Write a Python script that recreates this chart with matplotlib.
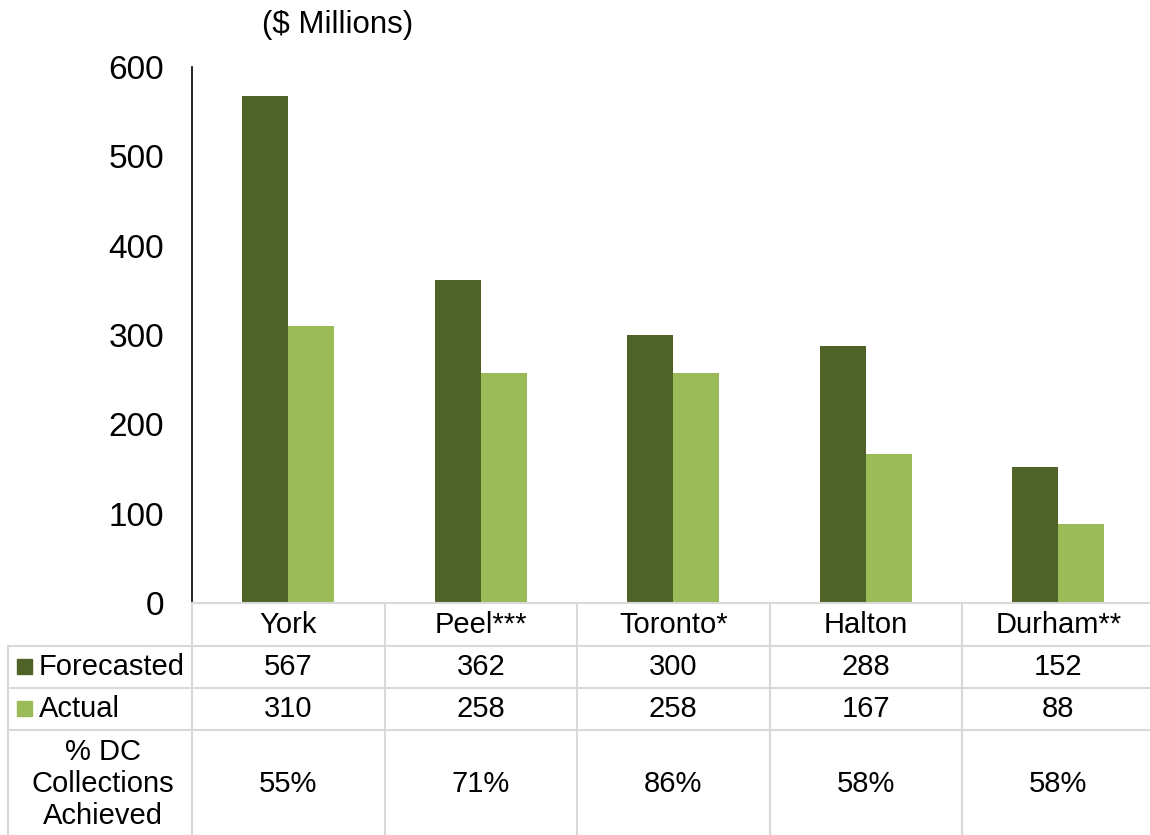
import matplotlib
matplotlib.use("Agg")
import matplotlib.pyplot as plt
from matplotlib.lines import Line2D
from matplotlib.patches import Rectangle

regions = ["York", "Peel***", "Toronto*", "Halton", "Durham**"]
forecasted = [567, 362, 300, 288, 152]
actual = [310, 258, 258, 167, 88]
pct_achieved = ["55%", "71%", "86%", "58%", "58%"]
series_names = ["Forecasted", "Actual"]
row3_label = "% DC\nCollections\nAchieved"
y_ticks = [0, 100, 200, 300, 400, 500, 600]

DARK = "#4F6228"
LIGHT = "#9BBB59"
GRID = "#D9D9D9"
FS = 21

plt.rcParams['font.family'] = ['Liberation Sans', 'DejaVu Sans']

W, H = 1150, 835
fig = plt.figure(figsize=(W / 100, H / 100), dpi=100)

def fx(x):
    return x / W

def fy(y):
    return 1 - y / H

ax_l, ax_r, ax_t, ax_b = 192, 1154.5, 67, 603
ax = fig.add_axes([fx(ax_l), fy(ax_b), fx(ax_r - ax_l), (ax_b - ax_t) / H])

n = len(regions)
xs = list(range(n))
bw = 0.24
ax.bar([x - bw / 2 for x in xs], forecasted, width=bw, color=DARK, zorder=2)
ax.bar([x + bw / 2 for x in xs], actual, width=bw, color=LIGHT, zorder=2)
ax.set_xlim(-0.5, n - 0.5)
ax.set_ylim(0, 600)
ax.set_yticks(y_ticks)
ax.set_yticklabels([str(v) for v in y_ticks], fontsize=24)
ax.tick_params(axis='y', length=0, pad=20)
ax.set_xticks([])
for s in ["top", "right"]:
    ax.spines[s].set_visible(False)
ax.spines["left"].set_color("black")
ax.spines["left"].set_linewidth(1.2)
ax.spines["bottom"].set_color(GRID)
ax.spines["bottom"].set_linewidth(1.5)

fig.text(fx(338), fy(25), "($ Millions)", fontsize=22.5, ha="center", va="center")

# table grid
col_w = (ax_r - ax_l) / n
row_lines = [646, 688, 730]
for yl in row_lines:
    fig.add_artist(Line2D([fx(8), fx(W)], [fy(yl), fy(yl)], color=GRID, lw=1.5))
fig.add_artist(Line2D([fx(8), fx(8)], [fy(646), fy(H)], color=GRID, lw=1.5))
for k in range(n):
    xl = ax_l + k * col_w
    fig.add_artist(Line2D([fx(xl), fx(xl)], [fy(603), fy(H)], color=GRID, lw=1.5))

# header and values
for k in range(n):
    cx = ax_l + (k + 0.5) * col_w
    fig.text(fx(cx), fy(625), regions[k], fontsize=FS, ha="center", va="center")
    fig.text(fx(cx), fy(667), str(forecasted[k]), fontsize=FS, ha="center", va="center")
    fig.text(fx(cx), fy(709), str(actual[k]), fontsize=FS, ha="center", va="center")
    fig.text(fx(cx), fy(784), pct_achieved[k], fontsize=FS, ha="center", va="center")

# row labels with legend keys
for yc, name, col in [(667, series_names[0], DARK), (709, series_names[1], LIGHT)]:
    fig.add_artist(Rectangle((fx(17), fy(yc + 7)), fx(15), 15 / H, color=col))
    fig.text(fx(39), fy(yc), name, fontsize=FS, ha="left", va="center")
fig.text(fx(103), fy(784), row3_label, fontsize=FS, ha="center", va="center",
         linespacing=1.2)

fig.savefig("out.png", dpi=100)
